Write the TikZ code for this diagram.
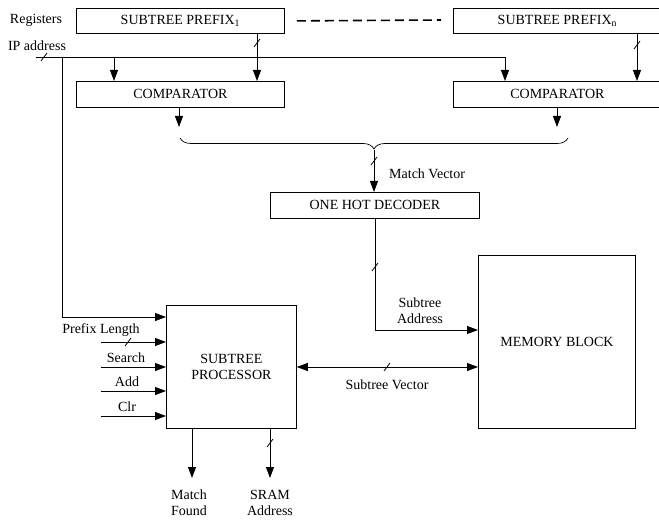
\documentclass[tikz,border=0pt]{standalone}
\usepackage{fontspec}
\setmainfont{Liberation Serif}
\usetikzlibrary{arrows.meta,decorations.pathreplacing,calc}

\tikzset{
  blk/.style={draw,line width=0.8pt,inner sep=0pt,anchor=north west},
  wire/.style={line width=0.8pt},
  arr/.style={wire,-{Triangle[length=11pt,width=8pt]}},
  darr/.style={wire,{Triangle[length=11pt,width=8pt]}-{Triangle[length=11pt,width=8pt]}},
  lbl/.style={inner sep=0pt,align=center},
}
% short slash across a bus
\newcommand{\busmark}[1]{\draw[wire] ($(#1)+(-3,4)$) -- ($(#1)+(3,-4)$);}

\begin{document}
\begin{tikzpicture}
    [
    x=1pt,y=-1pt,
    every node/.style={font=\fontsize{14}{16}\selectfont},
    ]
    \clip (0,0) rectangle (659,521);

    % registers row
    \node[lbl] (reglbl) at (36,20) {Registers};
    \node[blk,minimum width=208pt,minimum height=25pt] (prefa) at (76,8) {SUBTREE PREFIX\textsubscript{1}};
    \node[blk,minimum width=208pt,minimum height=25pt] (prefn) at (453,8) {SUBTREE PREFIX\textsubscript{n}};
    \draw[line width=1.6pt,dash pattern=on 9pt off 5pt] (prefa.east) ++(12,0) coordinate (dsa) -- (441,20) coordinate (dsb);

    % comparators
    \node[blk,minimum width=208pt,minimum height=26pt] (compa) at (76,81) {COMPARATOR};
    \node[blk,minimum width=208pt,minimum height=26pt] (compn) at (453,81) {COMPARATOR};

    % IP address bus
    \node[lbl] (iplbl) at (37,46) {IP address};
    \coordinate (ipa) at (36,57);
    \coordinate (ipb) at (505,57);
    \coordinate (ipc) at (62,57);
    \draw[wire] (ipa) -- (ipb);
    \busmark{44,57}
    \draw[arr] (114,57) -- (compa.north -| 114,0);
    \draw[arr] (ipb) -- (compn.north -| ipb);
    \draw[arr] (prefa.south -| 257,0) -- (compa.north -| 257,0);
    \busmark{257,43}
    \draw[arr] (prefn.south -| 637,0) -- (compn.north -| 637,0);
    \busmark{637,45}

    % comparator outputs and merge
    \draw[arr] (compa.south -| 179,0) -- (179,127);
    \draw[arr] (compn.south -| 557,0) -- (557,127);
    \draw[line width=0.7pt,decorate,decoration={brace,mirror,amplitude=11pt}] (180,138) -- (568,138);
    \coordinate (bracetip) at (374,150);

    % decoder
    \node[blk,minimum width=209pt,minimum height=26pt] (dec) at (270,192) {ONE HOT DECODER};
    \draw[arr] (bracetip) -- (dec.north -| bracetip);
    \busmark{374,161}
    \node[lbl,anchor=west] (mvlbl) at (389,174) {Match Vector};

    % memory block
    \node[blk,minimum width=157pt,minimum height=173pt] (mem) at (478,255) {MEMORY BLOCK};
    \draw[arr] (dec.south -| 375,0) -- (375,330) -- (mem.west |- 0,330);
    \busmark{375,267}
    \node[lbl] (salbl) at (420,311) {Subtree\\Address};

    % subtree processor
    \node[blk,minimum width=130pt,minimum height=123pt,align=center] (proc) at (166,305) {SUBTREE\\PROCESSOR};
    \draw[arr] (ipc) -- (62,317) -- (proc.west |- 0,317);
    \draw[darr] (proc.east |- 0,367) -- (mem.west |- 0,367);
    \busmark{387,367}
    \node[lbl] (svlbl) at (387,385) {Subtree Vector};

    % control inputs
    \draw[arr] (101,342) -- (proc.west |- 0,342);
    \busmark{128,342}
    \node[lbl] (pllbl) at (101,330) {Prefix Length};
    \draw[arr] (101,367) -- (proc.west |- 0,367);
    \node[lbl] (srlbl) at (126,358) {Search};
    \draw[arr] (101,391) -- (proc.west |- 0,391);
    \node[lbl] (adlbl) at (127,382) {Add};
    \draw[arr] (101,416) -- (proc.west |- 0,416);
    \node[lbl] (cllbl) at (127,407) {Clr};

    % outputs
    \draw[arr] (proc.south -| 192,0) -- (192,478);
    \node[lbl] (mflbl) at (189,503) {Match\\Found};
    \draw[arr] (proc.south -| 270,0) -- (270,478);
    \busmark{270,443}
    \node[lbl] (srlbl2) at (270,503) {SRAM\\Address};
  \end{tikzpicture}
\end{document}
